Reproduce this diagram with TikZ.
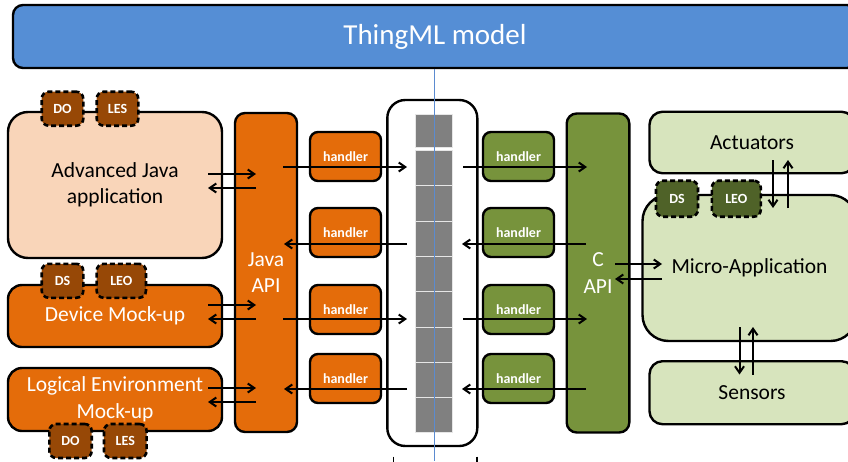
\documentclass[tikz,border=0pt]{standalone}
\usepackage{fontspec}
\setmainfont{Carlito}
\usetikzlibrary{arrows.meta,calc}
\definecolor{bannerc}{HTML}{558ED5}
\definecolor{peach}{HTML}{F9D5B9}
\definecolor{orangec}{HTML}{E46C0A}
\definecolor{brownc}{HTML}{974806}
\definecolor{greenc}{HTML}{77933C}
\definecolor{lgreen}{HTML}{D7E4BD}
\definecolor{dgreen}{HTML}{4F6228}
\definecolor{qgrey}{HTML}{808080}
\definecolor{qsep}{HTML}{E6E6E6}
\definecolor{blinec}{HTML}{5B8BD0}
\begin{document}
\begin{tikzpicture}[x=1pt,y=-1pt,
  box/.style={draw=black, line width=2.4pt, rounded corners=#1, inner sep=0pt, align=center},
  bigtext/.style={font=\fontsize{21.5}{26.5}\selectfont},
  handlerbox/.style={draw=black, line width=2.4pt, rounded corners=8pt, minimum width=71pt, minimum height=49pt, inner sep=0pt, font=\fontsize{14}{16}\selectfont\bfseries, text=white},
  badge/.style={draw=black, line width=2.6pt, dash pattern=on 5pt off 3pt, rounded corners=7pt, minimum height=34pt, inner sep=0pt, font=\fontsize{14}{16}\selectfont\bfseries, text=white},
  cell/.style={fill=qgrey, draw=qsep, line width=1pt, minimum width=37pt, inner sep=0pt},
  arr/.style={line width=2pt, -{Straight Barb[length=6.5pt,width=9pt]}},
  bluel/.style={draw=blinec, line width=1pt},
  tick/.style={line width=1.5pt}
]
\useasboundingbox (0,0) rectangle (848,461);
\clip (0,0) rectangle (848,461);

% banner
\node[box=10pt, fill=bannerc, minimum width=844pt, minimum height=63pt, text=white, font=\fontsize{29}{34}\selectfont] (banner) at (435,36.5) {ThingML model};

% left side boxes
\node[box=20pt, fill=peach, minimum width=214pt, minimum height=146pt, bigtext] (aj) at (115,185) {Advanced Java\\application};
\node[box=14pt, fill=orangec, minimum width=214pt, minimum height=62pt, bigtext, text=white] (dm) at (115,316) {Device Mock-up};
\node[box=14pt, fill=orangec, minimum width=214pt, minimum height=63pt, bigtext, text=white] (le) at (115,399.5) {Logical Environment\\Mock-up};

% badges left
\node[badge, fill=brownc, minimum width=41.6pt] (b1) at (62.5,108.7) {DO};
\node[badge, fill=brownc, minimum width=41.6pt] (b2) at (117.5,108.7) {LES};
\node[badge, fill=brownc, minimum width=41.6pt] (b3) at (62.5,280.8) {DS};
\node[badge, fill=brownc, minimum width=49.3pt] (b4) at (121.3,280.8) {LEO};
\node[badge, fill=brownc, minimum width=42.4pt] (b5) at (70.5,441) {DO};
\node[badge, fill=brownc, minimum width=42.7pt] (b6) at (125.3,441) {LES};

% Java API
\node[box=10pt, fill=orangec, minimum width=62pt, minimum height=319pt, bigtext, text=white] (japi) at (266,272.5) {Java\\API};

% handlers left
\node[handlerbox, fill=orangec] (hl1) at (345.5,156.5) {handler};
\node[handlerbox, fill=orangec] (hl2) at (345.5,232.5) {handler};
\node[handlerbox, fill=orangec] (hl3) at (345.5,309.5) {handler};
\node[handlerbox, fill=orangec] (hl4) at (345.5,378.5) {handler};

% container and queue
\node[box=18pt, fill=white, minimum width=90pt, minimum height=346pt] (cont) at (432.3,273) {};
\node[cell, minimum height=33pt] (q) at (433.5,130.5) {};
\foreach \i in {0,...,7} {
  \node[cell, minimum height=35.3pt] (c\i) at (433.5,{168.15+35.3*\i}) {};
}

% handlers right
\node[handlerbox, fill=greenc] (hr1) at (518.5,156.5) {handler};
\node[handlerbox, fill=greenc] (hr2) at (518.5,232.5) {handler};
\node[handlerbox, fill=greenc] (hr3) at (518.5,309.5) {handler};
\node[handlerbox, fill=greenc] (hr4) at (518.5,378.5) {handler};

% C API
\node[box=10pt, fill=greenc, minimum width=62.6pt, minimum height=319pt, bigtext, text=white] (capi) at (598,273) {C\\API};

% right side boxes
\node[box=13pt, fill=lgreen, minimum width=205pt, minimum height=61.5pt, bigtext] (act) at (752,142.5) {Actuators};
\node[box=26pt, fill=lgreen, minimum width=214pt, minimum height=146pt, bigtext] (micro) at (749.5,268) {Micro-Application};
\node[box=13pt, fill=lgreen, minimum width=205pt, minimum height=63pt, bigtext] (sens) at (752,392.7) {Sensors};

% green badges
\node[badge, fill=dgreen, minimum width=42pt, minimum height=36pt] (g1) at (677,198.7) {DS};
\node[badge, fill=dgreen, minimum width=49pt, minimum height=36pt] (g2) at (736.3,198.7) {LEO};

% arrow end coordinates
\coordinate (ajo) at (208,174);
\coordinate (aji) at (256,174);
\coordinate (ajo2) at (208,188);
\coordinate (aji2) at (256,188);
\coordinate (dmo) at (208,305);
\coordinate (dmi) at (256,305);
\coordinate (dmo2) at (208,319);
\coordinate (dmi2) at (256,319);
\coordinate (leo) at (208,388);
\coordinate (lei) at (256,388);
\coordinate (leo2) at (208,402);
\coordinate (lei2) at (256,402);

\coordinate (jl1) at (283,167);
\coordinate (ql1) at (407,167);
\coordinate (jl2) at (284,244);
\coordinate (ql2) at (407,244);
\coordinate (jl3) at (283,319);
\coordinate (ql3) at (407,319);
\coordinate (jl4) at (284,389);
\coordinate (ql4) at (407,389);

\coordinate (qr1) at (463,167);
\coordinate (cr1) at (587,167);
\coordinate (qr2) at (462,244);
\coordinate (cr2) at (586,244);
\coordinate (qr3) at (463,319);
\coordinate (cr3) at (587,319);
\coordinate (qr4) at (462,389);
\coordinate (cr4) at (586,389);

\coordinate (cm1) at (615,264);
\coordinate (mc1) at (662,264);
\coordinate (cm2) at (615,279);
\coordinate (mc2) at (662,279);

\coordinate (ad1) at (773,160);
\coordinate (ma1) at (773,208);
\coordinate (ad2) at (788,160);
\coordinate (ma2) at (788,208);

\coordinate (ms1) at (739.5,327);
\coordinate (sm1) at (739.5,374.5);
\coordinate (ms2) at (753,327);
\coordinate (sm2) at (753,374.5);

% arrows left
\draw[arr] (ajo) -- (aji);
\draw[arr] (aji2) -- (ajo2);
\draw[arr] (dmo) -- (dmi);
\draw[arr] (dmi2) -- (dmo2);
\draw[arr] (leo) -- (lei);
\draw[arr] (lei2) -- (leo2);

\draw[arr] (jl1) -- (ql1);
\draw[arr] (ql2) -- (jl2);
\draw[arr] (jl3) -- (ql3);
\draw[arr] (ql4) -- (jl4);

% arrows right
\draw[arr] (qr1) -- (cr1);
\draw[arr] (cr2) -- (qr2);
\draw[arr] (qr3) -- (cr3);
\draw[arr] (cr4) -- (qr4);

\draw[arr] (cm1) -- (mc1);
\draw[arr] (mc2) -- (cm2);

\draw[arr] (ad1) -- (ma1);
\draw[arr] (ma2) -- (ad2);
\draw[arr] (ms1) -- (sm1);
\draw[arr] (sm2) -- (ms2);

% blue line
\coordinate (blb) at (434,461);
\draw[bluel] (banner.south -| blb) -- (blb);

% ticks at bottom
\coordinate (t1a) at (393.5,456.5);
\coordinate (t1b) at (393.5,462);
\coordinate (t2a) at (477,456.5);
\coordinate (t2b) at (477,462);
\draw[tick] (t1a) -- (t1b);
\draw[tick] (t2a) -- (t2b);
\end{tikzpicture}
\end{document}
